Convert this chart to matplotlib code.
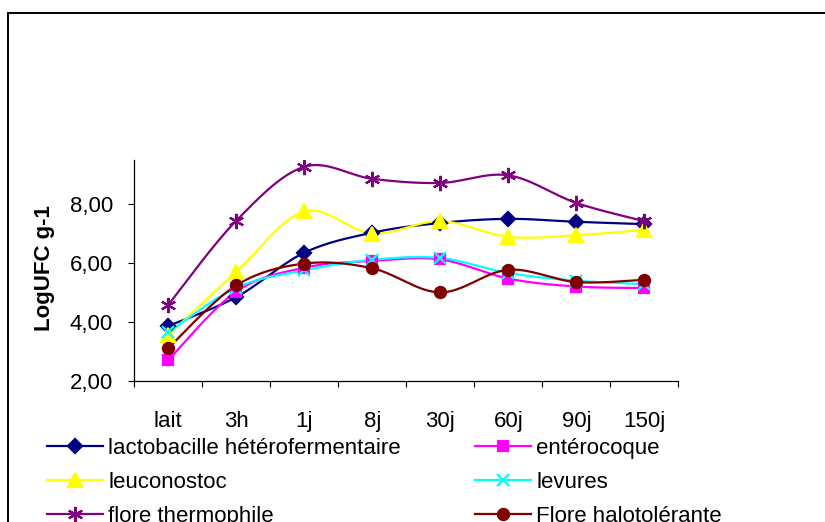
import numpy as np
import matplotlib
matplotlib.use("Agg")
import matplotlib.pyplot as plt
from matplotlib.lines import Line2D
from matplotlib.patches import Rectangle
from matplotlib.ticker import FuncFormatter

plt.rcParams['font.family'] = ['Liberation Sans', 'DejaVu Sans']

# categories (x axis)
periodes = ["lait", "3h", "1j", "8j", "30j", "60j", "90j", "150j"]

# LogUFC g-1
lactobacille = [3.86, 4.84, 6.35, 7.03, 7.36, 7.50, 7.40, 7.32]
enterocoque = [2.70, 5.03, 5.84, 6.07, 6.12, 5.47, 5.20, 5.15]
leuconostoc = [3.55, 5.70, 7.75, 7.00, 7.42, 6.89, 6.94, 7.13]
levures = [3.64, 5.16, 5.75, 6.11, 6.17, 5.66, 5.40, 5.28]
thermophile = [4.58, 7.44, 9.27, 8.86, 8.72, 8.98, 8.04, 7.42]
halotolerante = [3.11, 5.24, 5.98, 5.82, 5.00, 5.77, 5.35, 5.43]

series = [
    ("lactobacille hétérofermentaire", lactobacille, "#000080", "D", 7.5),
    ("entérocoque", enterocoque, "#FF00FF", "s", 7.5),
    ("leuconostoc", leuconostoc, "#FFFF00", "^", 10),
    ("levures", levures, "#00FFFF", "x", 8),
    ("flore thermophile", thermophile, "#800080", (6, 2, 0), 11),
    ("Flore halotolérante", halotolerante, "#800000", "o", 8),
]


def lissage(y, n=30):
    """Courbe lissée (style Excel) : Bezier de type Catmull-Rom."""
    x = np.arange(len(y), dtype=float)
    y = np.asarray(y, dtype=float)
    px = np.concatenate([[x[0]], x, [x[-1]]])
    py = np.concatenate([[y[0]], y, [y[-1]]])
    xs, ys = [], []
    t = np.linspace(0, 1, n)
    for i in range(len(y) - 1):
        p0 = np.array([px[i + 1], py[i + 1]])
        p3 = np.array([px[i + 2], py[i + 2]])
        c1 = p0 + (p3 - np.array([px[i], py[i]])) / 6
        c2 = p3 - (np.array([px[i + 3], py[i + 3]]) - p0) / 6
        b = ((1 - t) ** 3)[:, None] * p0 + (3 * (1 - t) ** 2 * t)[:, None] * c1 \
            + (3 * (1 - t) * t ** 2)[:, None] * c2 + (t ** 3)[:, None] * p3
        xs.append(b[:, 0])
        ys.append(b[:, 1])
    return np.concatenate(xs), np.concatenate(ys)


fig = plt.figure(figsize=(8.25, 5.22), dpi=100)
ax = fig.add_axes([0.1628, 0.2707, 0.6594, 0.4228])

x = np.arange(len(periodes))
poignees = {}
for nom, valeurs, couleur, marqueur, taille in series:
    xl, yl = lissage(valeurs)
    ax.plot(xl, yl, color=couleur, lw=1.6, zorder=2)
    ax.plot(x, valeurs, ls="none", marker=marqueur, ms=taille, color=couleur,
            mec=couleur, mew=1.6, zorder=3)
    poignees[nom] = Line2D([], [], color=couleur, lw=1.6, marker=marqueur,
                           ms=taille, mec=couleur, mew=1.6)

ax.set_xlim(-0.5, len(periodes) - 0.5)
ax.set_ylim(2, 9.5)
ax.set_yticks([2, 4, 6, 8])
ax.yaxis.set_major_formatter(FuncFormatter(lambda v, p: f"{v:.2f}".replace(".", ",")))
ax.set_xticks(x)
ax.set_xticklabels(periodes)
ax.set_xticks(np.arange(-0.5, len(periodes)), minor=True)
ax.tick_params(axis="x", which="major", length=0, pad=21.5, labelsize=16)
ax.tick_params(axis="x", which="minor", length=4.5, width=0.8, direction="out")
ax.tick_params(axis="y", length=4.5, width=0.8, pad=11, labelsize=16)

for cote in ["top", "right"]:
    ax.spines[cote].set_visible(False)
for cote in ["left", "bottom"]:
    ax.spines[cote].set_linewidth(0.9)

ax.set_ylabel("LogUFC g-1", fontsize=16, fontweight="bold")
ax.yaxis.set_label_coords(-0.145, 0.51)

# légende sur deux colonnes, sans cadre (la 3e ligne touche le bas comme dans l'original)
gauche = ["lactobacille hétérofermentaire", "leuconostoc", "flore thermophile"]
droite = ["entérocoque", "levures", "Flore halotolérante"]
opts = dict(loc="upper left", frameon=False, fontsize=16, handlelength=2.5,
            handletextpad=0.25, labelspacing=0.58, borderpad=0, borderaxespad=0,
            numpoints=1)
fig.legend([poignees[n] for n in gauche], gauche,
           bbox_to_anchor=(47 / 825, 1 - 438 / 522), **opts)
fig.legend([poignees[n] for n in droite], droite,
           bbox_to_anchor=(475 / 825, 1 - 438 / 522), **opts)

# cadre extérieur du graphique
fig.patches.append(Rectangle((8 / 825, -0.2), 1.5, 1.2 - 13 / 522,
                             transform=fig.transFigure, fill=False,
                             lw=1.4, ec="black"))

fig.savefig("out.png", dpi=100)
